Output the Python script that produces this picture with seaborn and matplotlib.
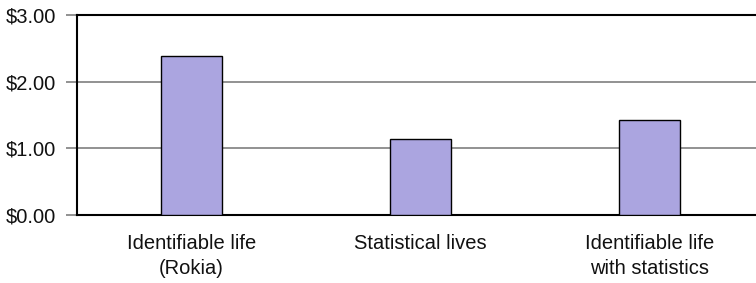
import matplotlib
matplotlib.use("Agg")
import matplotlib.pyplot as plt
import seaborn as sns
import pandas as pd
from matplotlib.ticker import FuncFormatter

categories = ["Identifiable life\n(Rokia)", "Statistical lives", "Identifiable life\nwith statistics"]
donations = [2.38, 1.14, 1.42]
ytick_values = [0, 1, 2, 3]

sns.set_theme(style="white")
plt.rcParams['font.family'] = ['Liberation Sans', 'DejaVu Sans']

df = pd.DataFrame({"condition": categories, "donation": donations})

fig = plt.figure(figsize=(7.56, 2.83), dpi=100)
ax = fig.add_axes([77/756, 68/283, 687/756, 200/283])

sns.barplot(data=df, x="condition", y="donation", color="#ABA5E0", saturation=1,
            width=0.27, edgecolor="black", linewidth=1.0, ax=ax, zorder=3)

ax.set_ylim(0, 3)
ax.set_xlim(-0.5, 2.5)
ax.set_yticks(ytick_values)
ax.yaxis.set_major_formatter(FuncFormatter(lambda v, p: f"${v:.2f}"))
ax.set_xlabel("")
ax.set_ylabel("")
ax.yaxis.grid(True, color="#7f7f7f", linewidth=1.2, zorder=0)
ax.set_axisbelow(True)
for side in ["left", "bottom", "top"]:
    ax.spines[side].set_visible(True)
    ax.spines[side].set_color("black")
    ax.spines[side].set_linewidth(1.5)
ax.spines["right"].set_visible(False)
ax.tick_params(axis="y", which="major", left=True, length=8, width=1.2, color="#7f7f7f",
               labelsize=14.5, labelcolor="#111111", pad=7)
ax.tick_params(axis="x", which="major", bottom=False, labelsize=14.5, labelcolor="#111111", pad=8)
for lbl in ax.get_xticklabels():
    lbl.set_linespacing(1.4)

fig.savefig("out.png", dpi=100)
